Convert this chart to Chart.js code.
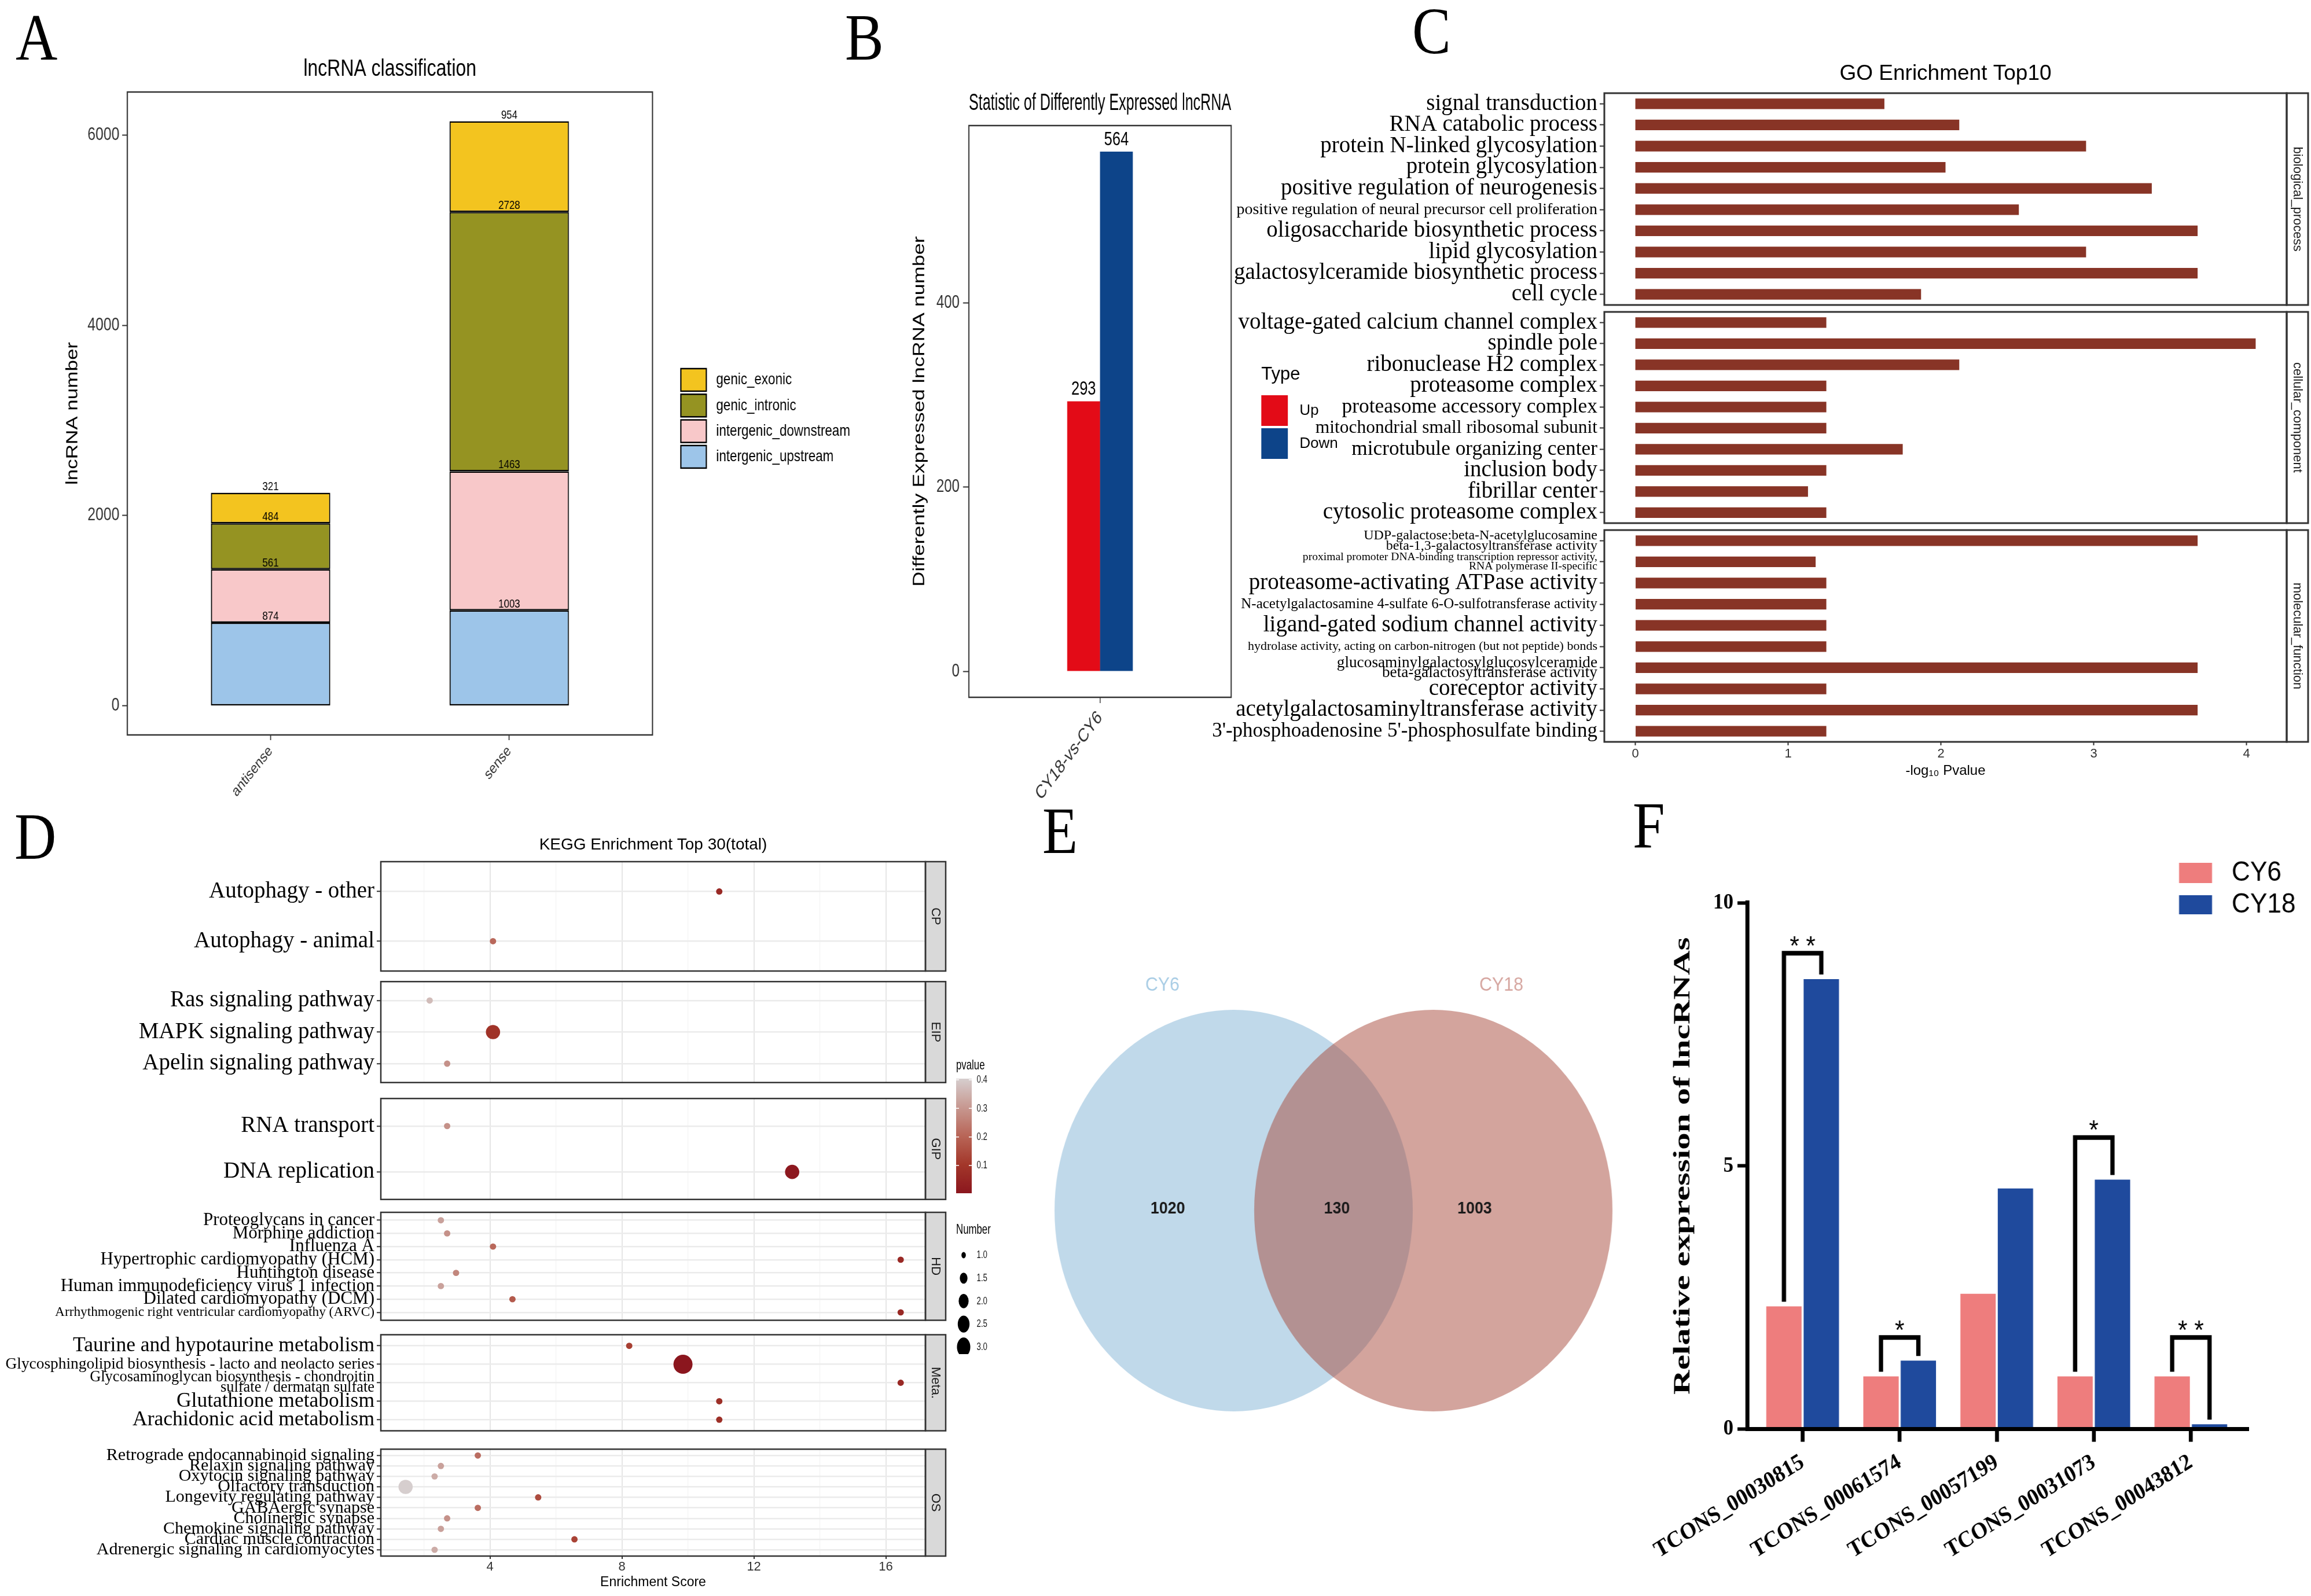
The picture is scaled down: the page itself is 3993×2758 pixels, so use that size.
<!DOCTYPE html>
<html>
<head>
<meta charset="utf-8">
<title>lncRNA figure</title>
<script src="https://cdn.jsdelivr.net/npm/chart.js@4.4.1/dist/chart.umd.min.js"></script>
<style>
  html, body { margin: 0; padding: 0; background: #fff; }
  body { position: relative; width: 3993px; height: 2758px; overflow: hidden; }
  .panel { position: absolute; transform-origin: 0 0; }
  .panel canvas { display: block; }
  #letters { position: absolute; left: 0; top: 0; }
</style>
</head>
<body>
<svg id="letters" width="3993" height="2758">
  <g font-family="'Liberation Serif', 'Times New Roman', serif" font-size="115" fill="#000">
    <text transform="translate(27,103) scale(0.87,1)">A</text>
    <text transform="translate(1460,103) scale(0.87,1)">B</text>
    <text transform="translate(2440,92) scale(0.87,1)">C</text>
    <text transform="translate(25,1484) scale(0.87,1)">D</text>
    <text transform="translate(1801,1474) scale(0.87,1)">E</text>
    <text transform="translate(2821,1465) scale(0.87,1)">F</text>
  </g>
</svg>
<script>
// ---------- data ----------
// A: lncRNA classification (stacked)
const classCats = ['antisense', 'sense'];
const upstream = [874, 1003];
const downstream = [561, 1463];
const intronic = [484, 2728];
const exonic = [321, 954];
const classTicks = [0, 2000, 4000, 6000];

// B: differently expressed lncRNA
const deCats = ['CY18-vs-CY6'];
const deUp = [293];
const deDown = [564];
const deTicks = [0, 200, 400];

// C: GO enrichment (-log10 p)
const bpTerms = ['signal transduction', 'RNA catabolic process', 'protein N-linked glycosylation', 'protein glycosylation',
  'positive regulation of neurogenesis', 'positive regulation of neural precursor cell proliferation',
  'oligosaccharide biosynthetic process', 'lipid glycosylation', 'galactosylceramide biosynthetic process', 'cell cycle'];
const bpScore = [1.63, 2.12, 2.95, 2.03, 3.38, 2.51, 3.68, 2.95, 3.68, 1.87];
const ccTerms = ['voltage-gated calcium channel complex', 'spindle pole', 'ribonuclease H2 complex', 'proteasome complex',
  'proteasome accessory complex', 'mitochondrial small ribosomal subunit', 'microtubule organizing center',
  'inclusion body', 'fibrillar center', 'cytosolic proteasome complex'];
const ccScore = [1.25, 4.06, 2.12, 1.25, 1.25, 1.25, 1.75, 1.25, 1.13, 1.25];
const mfTerms = [['UDP-galactose:beta-N-acetylglucosamine', 'beta-1,3-galactosyltransferase activity'],
  ['proximal promoter DNA-binding transcription repressor activity,', 'RNA polymerase II-specific'],
  'proteasome-activating ATPase activity', 'N-acetylgalactosamine 4-sulfate 6-O-sulfotransferase activity',
  'ligand-gated sodium channel activity', 'hydrolase activity, acting on carbon-nitrogen (but not peptide) bonds',
  ['glucosaminylgalactosylglucosylceramide', 'beta-galactosyltransferase activity'],
  'coreceptor activity', 'acetylgalactosaminyltransferase activity', "3'-phosphoadenosine 5'-phosphosulfate binding"];
const mfScore = [3.68, 1.18, 1.25, 1.25, 1.25, 1.25, 3.68, 1.25, 3.68, 1.25];
const goTicks = [0, 1, 2, 3, 4];

// D: KEGG enrichment
const cpTerms = ['Autophagy - other', 'Autophagy - animal'];
const cpScore = [10.95, 4.09];
const cpP = [0.06, 0.21];
const cpNum = [1, 1];
const eipTerms = ['Ras signaling pathway', 'MAPK signaling pathway', 'Apelin signaling pathway'];
const eipScore = [2.17, 4.09, 2.70];
const eipP = [0.37, 0.09, 0.29];
const eipNum = [1, 2, 1];
const gipTerms = ['RNA transport', 'DNA replication'];
const gipScore = [2.70, 13.16];
const gipP = [0.29, 0.01];
const gipNum = [1, 2];
const hdTerms = ['Proteoglycans in cancer', 'Morphine addiction', 'Influenza A', 'Hypertrophic cardiomyopathy (HCM)',
  'Huntington disease', 'Human immunodeficiency virus 1 infection', 'Dilated cardiomyopathy (DCM)',
  'Arrhythmogenic right ventricular cardiomyopathy (ARVC)'];
const hdScore = [2.51, 2.70, 4.09, 16.45, 2.97, 2.51, 4.68, 16.45];
const hdP = [0.32, 0.29, 0.21, 0.06, 0.27, 0.32, 0.18, 0.06];
const hdNum = [1, 1, 1, 1, 1, 1, 1, 1];
const metaTerms = ['Taurine and hypotaurine metabolism', 'Glycosphingolipid biosynthesis - lacto and neolacto series',
  ['Glycosaminoglycan biosynthesis - chondroitin', 'sulfate / dermatan sulfate'], 'Glutathione metabolism',
  'Arachidonic acid metabolism'];
const metaScore = [8.22, 9.85, 16.45, 10.95, 10.95];
const metaP = [0.12, 0.003, 0.06, 0.08, 0.08];
const metaNum = [1, 3, 1, 1, 1];
const osTerms = ['Retrograde endocannabinoid signaling', 'Relaxin signaling pathway', 'Oxytocin signaling pathway',
  'Olfactory transduction', 'Longevity regulating pathway', 'GABAergic synapse', 'Cholinergic synapse',
  'Chemokine signaling pathway', 'Cardiac muscle contraction', 'Adrenergic signaling in cardiomyocytes'];
const osScore = [3.63, 2.51, 2.32, 1.44, 5.46, 3.63, 2.70, 2.51, 6.56, 2.32];
const osP = [0.22, 0.32, 0.34, 0.404, 0.15, 0.22, 0.29, 0.32, 0.13, 0.34];
const osNum = [1, 1, 1, 2, 1, 1, 1, 1, 1, 1];
const keggTicks = [4, 8, 12, 16];
const pTicks = [0.1, 0.2, 0.3, 0.4];
const numTicks = [1.0, 1.5, 2.0, 2.5, 3.0];

// E: venn
const vennSets = ['CY6', 'CY18'];
const vennCounts = [1020, 130, 1003];

// F: qPCR
const qpcrGenes = ['TCONS_00030815', 'TCONS_00061574', 'TCONS_00057199', 'TCONS_00031073', 'TCONS_00043812'];
const qpcrCY6 = [2.33, 1.0, 2.57, 1.0, 1.0];
const qpcrCY18 = [8.55, 1.30, 4.57, 4.74, 0.09];
const qpcrSig = ['**', '*', '', '*', '**'];
const bracketTop = [9.04, 1.74, null, 5.54, 1.74];
const fTicks = [0, 5, 10];

// ---------- styles ----------
const SANS = '"Liberation Sans", Arial, Helvetica, sans-serif';
const SERIF = '"Liberation Serif", "Times New Roman", Times, serif';
const bpFont = [39, 39, 39, 39, 39, 28, 39, 39, 39, 39];
const ccFont = [39, 39, 39, 39, 35.5, 31.5, 35.3, 39, 39, 39];
const mfFont = [24, 19.6, 39, 25, 39, 22, 27.3, 39, 39, 35];
const mfLine = [0.75, 0.8, 1.2, 1.2, 1.2, 1.2, 0.62, 1.2, 1.2, 1.2];
const cpFont = [39, 39];
const eipFont = [39, 39, 39];
const gipFont = [39, 39];
const hdFont = [31, 31, 31, 31, 31, 31, 31, 23.3];
const metaFont = [35.5, 27.4, 26.4, 35.5, 35.5];
const metaLine = [1.2, 1.2, 0.68, 1.2, 1.2];
const osFont = [30, 30, 30, 30, 30, 30, 30, 30, 30, 30];

Chart.defaults.animation = false;
Chart.defaults.events = [];
Chart.defaults.font.family = SANS;
Chart.defaults.color = '#000';
Chart.defaults.plugins.legend.display = false;
Chart.defaults.plugins.tooltip.enabled = false;

// canvas inside an absolutely placed box, squeezed horizontally by sx like the source figure
function mount(x, y, w, h, sx) {
  const box = document.createElement('div');
  box.className = 'panel';
  box.style.left = x + 'px';
  box.style.top = y + 'px';
  box.style.transform = 'scaleX(' + sx + ')';
  const cv = document.createElement('canvas');
  const nw = Math.round(w / sx);
  cv.width = nw;
  cv.height = h;
  cv.style.width = nw + 'px';
  cv.style.height = h + 'px';
  box.appendChild(cv);
  document.body.appendChild(box);
  return cv;
}

const fixedTicks = vals => scale => { scale.ticks = vals.map(v => ({value: v})); };
// fixed axis size, and no extra room for overhanging labels
const fitAxis = (w, h) => s => {
  if (w !== null) s.width = w;
  if (h !== null) s.height = h;
  s.paddingTop = 0;
  s.paddingBottom = 0;
  s.paddingLeft = 0;
  s.paddingRight = 0;
};

function framePlugin(color, width) {
  return {id: 'frame', afterDraw(chart) {
    const {ctx, chartArea: a} = chart;
    ctx.save();
    ctx.strokeStyle = color;
    ctx.lineWidth = width;
    ctx.strokeRect(a.left, a.top, a.right - a.left, a.bottom - a.top);
    ctx.restore();
  }};
}

function facetBox(label, fill, stripW, lw) {
  return {id: 'facetBox', afterDraw(chart) {
    const {ctx, chartArea: a} = chart;
    const h = a.bottom - a.top;
    ctx.save();
    ctx.fillStyle = fill;
    ctx.fillRect(a.right, a.top, stripW, h);
    ctx.lineWidth = lw;
    ctx.strokeStyle = '#333';
    ctx.strokeRect(a.left, a.top, a.right - a.left, h);
    ctx.strokeRect(a.right, a.top, stripW, h);
    ctx.translate(a.right + stripW / 2, a.top + h / 2);
    ctx.rotate(Math.PI / 2);
    ctx.fillStyle = '#1a1a1a';
    ctx.font = '22px ' + SANS;
    ctx.textAlign = 'center';
    ctx.textBaseline = 'middle';
    ctx.fillText(label, 0, 0);
    ctx.restore();
  }};
}

function valueLabels(size, gap) {
  return {id: 'valueLabels', afterDatasetsDraw(chart) {
    const ctx = chart.ctx;
    ctx.save();
    ctx.font = size + 'px ' + SANS;
    ctx.fillStyle = '#000';
    ctx.textAlign = 'center';
    ctx.textBaseline = 'alphabetic';
    chart.data.datasets.forEach((ds, i) => {
      chart.getDatasetMeta(i).data.forEach((bar, j) => {
        const v = ds.data[j];
        ctx.fillText(String(typeof v === 'object' ? v.y : v), bar.x, bar.y - gap);
      });
    });
    ctx.restore();
  }};
}

// ---------- A ----------
const sxA = 0.8;
const classMax = Math.max(...classCats.map((c, i) => upstream[i] + downstream[i] + intronic[i] + exonic[i]));
const stackSeries = [
  ['intergenic_upstream', upstream, '#9DC5E9'],
  ['intergenic_downstream', downstream, '#F8C8C9'],
  ['genic_intronic', intronic, '#959322'],
  ['genic_exonic', exonic, '#F3C41F']
];
const legendA = {id: 'legendA', afterDraw(chart) {
  const {ctx, chartArea: a} = chart;
  const items = chart.data.datasets.slice().reverse();
  const x0 = a.right + 49 / sxA, kw = 44 / sxA, kh = 39, step = 44.3;
  const y0 = a.top + 478;
  ctx.save();
  ctx.font = '28px ' + SANS;
  ctx.textBaseline = 'middle';
  items.forEach((ds, i) => {
    const y = y0 + i * step;
    ctx.fillStyle = ds.backgroundColor;
    ctx.fillRect(x0, y, kw, kh);
    ctx.lineWidth = 2.5;
    ctx.strokeStyle = '#000';
    ctx.strokeRect(x0, y, kw, kh);
    ctx.fillStyle = '#000';
    ctx.fillText(ds.label, x0 + 61 / sxA, y + kh / 2);
  });
  ctx.restore();
}};
new Chart(mount(100, 60, 1390, 1360, sxA), {
  type: 'bar',
  data: {datasets: stackSeries.map(([label, vals, color]) => ({
    label: label,
    data: vals.map((v, i) => ({x: i + 1, y: v})),
    backgroundColor: color,
    borderColor: '#000', borderWidth: 2.5, borderSkipped: false,
    barPercentage: 0.5, categoryPercentage: 1
  }))},
  options: {
    responsive: false,
    layout: {padding: {left: 0, top: 0, right: 363 / sxA, bottom: 0}},
    plugins: {title: {display: true, fullSize: false, text: 'lncRNA classification', color: '#000',
      font: {size: 40, weight: 'normal'}, padding: {top: 36, bottom: 15}}},
    scales: {
      x: {type: 'linear', stacked: true, offset: false, min: 0.4, max: 2.6,
        afterBuildTicks: fixedTicks([1, 2]), afterFit: fitAxis(null, 150),
        ticks: {autoSkip: false, minRotation: 45, maxRotation: 45, padding: 4, color: '#333', font: {size: 26},
          callback: v => classCats[v - 1]},
        grid: {drawOnChartArea: false, offset: false, tickLength: 9, tickWidth: 2, tickColor: '#333'},
        border: {display: false}},
      y: {stacked: true, min: -0.05 * classMax, max: 1.05 * classMax,
        afterBuildTicks: fixedTicks(classTicks), afterFit: fitAxis(120 / sxA, null),
        ticks: {padding: 6, color: '#333', font: {size: 31}, callback: v => String(v)},
        grid: {drawOnChartArea: false, tickLength: 11, tickWidth: 2, tickColor: '#333'},
        border: {display: false},
        title: {display: true, text: 'lncRNA number', color: '#000', font: {size: 35}, padding: {top: 11, bottom: 0}}}
    }
  },
  plugins: [framePlugin('#333', 2.5), valueLabels(21, 5), legendA]
});

// ---------- B ----------
const sxB = 0.75;
const deMax = Math.max(...deUp, ...deDown);
const legendB = {id: 'legendB', afterDraw(chart) {
  const {ctx, chartArea: a} = chart;
  ctx.save();
  ctx.translate(a.right + 52 / sxB, a.top);
  ctx.scale(1 / sxB, 1);
  ctx.fillStyle = '#000';
  ctx.font = '31px ' + SANS;
  ctx.textBaseline = 'alphabetic';
  ctx.fillText('Type', 0, 439);
  chart.data.datasets.forEach((ds, i) => {
    const y = 466 + i * 57;
    ctx.fillStyle = ds.backgroundColor;
    ctx.fillRect(0, y, 46, 53);
    ctx.fillStyle = '#000';
    ctx.font = '26px ' + SANS;
    ctx.textBaseline = 'middle';
    ctx.fillText(ds.label, 66, y + 26.5);
  });
  ctx.restore();
}};
new Chart(mount(1500, 120, 830, 1280, sxB), {
  type: 'bar',
  data: {labels: deCats, datasets: [
    {label: 'Up', data: deUp, backgroundColor: '#E30B17'},
    {label: 'Down', data: deDown, backgroundColor: '#0D4489'}
  ]},
  options: {
    responsive: false,
    datasets: {bar: {barPercentage: 1, categoryPercentage: 0.25}},
    layout: {padding: {left: 0, top: 0, right: 203 / sxB, bottom: 0}},
    plugins: {title: {display: true, fullSize: false, text: 'Statistic of Differently Expressed lncRNA', color: '#000',
      font: {size: 40, weight: 'normal'}, padding: {top: 35, bottom: 14}}},
    scales: {
      x: {afterFit: fitAxis(null, 195),
        ticks: {minRotation: 45, maxRotation: 45, padding: 6, color: '#333', font: {size: 33}},
        grid: {drawOnChartArea: false, offset: false, tickLength: 10, tickWidth: 2, tickColor: '#333'},
        border: {display: false}},
      y: {min: -0.05 * deMax, max: 1.05 * deMax, afterBuildTicks: fixedTicks(deTicks), afterFit: fitAxis(174 / sxB, null),
        ticks: {padding: 8, color: '#333', font: {size: 32}},
        grid: {drawOnChartArea: false, tickLength: 10 / sxB, tickWidth: 2, tickColor: '#333'},
        border: {display: false},
        title: {display: true, text: 'Differently Expressed lncRNA number', color: '#000', font: {size: 36},
          padding: {top: 97, bottom: 0}}}
    }
  },
  plugins: [framePlugin('#333', 2.5), valueLabels(34, 11), legendB]
});

// ---------- C ----------
const goMax = Math.max(...bpScore, ...ccScore, ...mfScore);
function goChart(cv, terms, scores, fonts, lines, strip, isFirst, isLast) {
  return new Chart(cv, {
    type: 'bar',
    data: {labels: terms, datasets: [{data: scores, backgroundColor: '#883426', barPercentage: 0.5, categoryPercentage: 1}]},
    options: {
      responsive: false,
      indexAxis: 'y',
      layout: {padding: {left: 0, top: isFirst ? 0 : 9, right: 44, bottom: isLast ? 0 : 8}},
      plugins: {title: {display: isFirst, fullSize: false, text: 'GO Enrichment Top10', color: '#000',
        font: {size: 37, weight: 'normal'}, padding: {top: 45.8, bottom: 10.8}}},
      scales: {
        x: {type: 'linear', display: isLast, min: -0.05 * goMax, max: 1.05 * goMax,
          afterBuildTicks: fixedTicks(goTicks), afterFit: fitAxis(null, isLast ? 78 : 0),
          ticks: {color: '#333', font: {size: 22}, padding: 2},
          grid: {drawOnChartArea: false, tickLength: 6, tickWidth: 2, tickColor: '#333'},
          border: {display: false},
          title: {display: true, text: '-log\u2081\u2080 Pvalue', color: '#000', font: {size: 24}, padding: {top: 0, bottom: 13.6}}},
        y: {afterFit: fitAxis(692, null),
          ticks: {autoSkip: false, padding: 4, color: '#000',
            font: c => ({family: SERIF, size: fonts[c.index] || 30, lineHeight: (lines && lines[c.index]) || 1.2})},
          grid: {offset: false, drawOnChartArea: false, tickLength: 8, tickWidth: 2, tickColor: '#333'},
          border: {display: false}}
      }
    },
    plugins: [facetBox(strip, '#fff', 37, 3)]
  });
}
goChart(mount(2080, 60, 1915, 475, 1), bpTerms, bpScore, bpFont, null, 'biological_process', true, false);
goChart(mount(2080, 530, 1915, 382, 1), ccTerms, ccScore, ccFont, null, 'cellular_component', false, false);
goChart(mount(2080, 907, 1915, 453, 1), mfTerms, mfScore, mfFont, mfLine, 'molecular_function', false, true);

// ---------- D ----------
const allScores = [...cpScore, ...eipScore, ...gipScore, ...hdScore, ...metaScore, ...osScore];
const allP = [...cpP, ...eipP, ...gipP, ...hdP, ...metaP, ...osP];
const kMin = Math.min(...allScores), kMax = Math.max(...allScores);
const kPad = 0.05 * (kMax - kMin);
const pLow = Math.min(...allP), pHigh = Math.max(...allP);
const keggGrid = [...keggTicks.map(v => v - 2), ...keggTicks].sort((a, b) => a - b);
const pStops = [[0, [139, 22, 30]], [0.25, [163, 55, 42]], [0.5, [184, 101, 87]], [0.75, [199, 152, 145]], [1, [214, 206, 206]]];
function pColor(p) {
  const t = Math.min(1, Math.max(0, (p - pLow) / (pHigh - pLow)));
  for (let i = 1; i < pStops.length; i++) {
    if (t <= pStops[i][0]) {
      const [t0, c0] = pStops[i - 1], [t1, c1] = pStops[i];
      const f = (t - t0) / (t1 - t0);
      const c = c0.map((v, k) => Math.round(v + (c1[k] - v) * f));
      return 'rgb(' + c.join(',') + ')';
    }
  }
  return 'rgb(214,206,206)';
}
const dotR = n => Math.sqrt(30 + 121 * (n - 1));
const isMajor = c => !!(c.tick && keggTicks.includes(c.tick.value));

const keggLegend = {id: 'keggLegend', afterDraw(chart) {
  const {ctx, chartArea: a} = chart;
  const k = 0.7;
  const barTop = a.top + 375, barH = 198, barW = 27 / k, textX = 35.5 / k;
  ctx.save();
  ctx.translate(a.right + 53, 0);
  ctx.scale(k, 1);
  ctx.fillStyle = '#000';
  ctx.font = '24px ' + SANS;
  ctx.textBaseline = 'middle';
  ctx.fillText('pvalue', 0, a.top + 352.5);
  const g = ctx.createLinearGradient(0, barTop, 0, barTop + barH);
  for (let i = 0; i <= 20; i++) {
    g.addColorStop(i / 20, pColor(pHigh - (i / 20) * (pHigh - pLow)));
  }
  ctx.fillStyle = g;
  ctx.fillRect(0, barTop, barW, barH);
  ctx.font = '19px ' + SANS;
  pTicks.forEach(v => {
    const y = barTop + (pHigh - v) / (pHigh - pLow) * barH;
    ctx.strokeStyle = '#fff';
    ctx.lineWidth = 1.5;
    ctx.beginPath();
    ctx.moveTo(0, y); ctx.lineTo(5 / k, y);
    ctx.moveTo(barW - 5 / k, y); ctx.lineTo(barW, y);
    ctx.stroke();
    ctx.fillStyle = '#1a1a1a';
    ctx.fillText(v.toFixed(1), textX, y);
  });
  ctx.fillStyle = '#000';
  ctx.font = '24px ' + SANS;
  ctx.fillText('Number', 0, a.top + 636);
  ctx.font = '19px ' + SANS;
  numTicks.forEach((n, i) => {
    const y = a.top + 680 + i * 39.7;
    ctx.fillStyle = '#000';
    ctx.beginPath();
    ctx.arc(13 / k, y, dotR(n), 0, Math.PI * 2);
    ctx.fill();
    ctx.fillStyle = '#1a1a1a';
    ctx.fillText(n.toFixed(1), textX, y);
  });
  ctx.restore();
}};

function keggChart(cv, f, o) {
  const n = f.terms.length;
  return new Chart(cv, {
    type: 'scatter',
    data: {datasets: [{
      data: f.score.map((s, i) => ({x: s, y: n - i})),
      pointRadius: c => dotR(f.num[c.dataIndex]),
      backgroundColor: c => pColor(f.p[c.dataIndex]),
      borderWidth: 0,
      clip: false
    }]},
    options: {
      responsive: false,
      layout: {padding: {left: 0, top: o.top, right: o.right, bottom: o.bottom}},
      plugins: {title: {display: !!o.title, fullSize: false, text: o.title || '', color: '#000',
        font: {size: 28, weight: 'normal'}, padding: {top: 33.2, bottom: 12.2}}},
      scales: {
        x: {type: 'linear', min: kMin - kPad, max: kMax + kPad,
          afterBuildTicks: fixedTicks(keggGrid), afterFit: fitAxis(null, o.last ? 69 : 0),
          ticks: {display: !!o.last, padding: 1, color: '#333', font: {size: 22},
            callback: v => keggTicks.includes(v) ? String(v) : ''},
          grid: {drawTicks: !!o.last, tickLength: 5, tickWidth: 2,
            tickColor: c => isMajor(c) ? '#333' : 'rgba(0,0,0,0)',
            color: c => isMajor(c) ? '#E6E6E6' : '#F3F3F3',
            lineWidth: c => isMajor(c) ? 2 : 1.2},
          border: {display: false},
          title: {display: !!o.last, text: 'Enrichment Score', color: '#000', font: {size: 23}, padding: {top: 0, bottom: 9.2}}},
        y: {type: 'linear', min: 0.4, max: n + 0.6,
          afterBuildTicks: fixedTicks(f.terms.map((t, i) => i + 1)), afterFit: fitAxis(658, null),
          ticks: {autoSkip: false, padding: 4, color: '#000',
            font: c => ({family: SERIF, size: f.fonts[n - 1 - c.index] || 30, lineHeight: (f.lines && f.lines[n - 1 - c.index]) || 1.2}),
            callback: v => f.terms[n - v]},
          grid: {color: '#EBEBEB', lineWidth: 2.5, tickLength: 7, tickWidth: 2, tickColor: '#333'},
          border: {display: false}}
      }
    },
    plugins: [facetBox(f.strip, '#D9D9D9', 35, 2.5)].concat(o.legend ? [keggLegend] : [])
  });
}
keggChart(mount(0, 1410, 1800, 930, 1),
  {terms: cpTerms, score: cpScore, p: cpP, num: cpNum, fonts: cpFont, strip: 'CP'},
  {top: 0, right: 201, bottom: 662, title: 'KEGG Enrichment Top 30(total)', legend: true});
keggChart(mount(0, 1684, 1640, 199, 1),
  {terms: eipTerms, score: eipScore, p: eipP, num: eipNum, fonts: eipFont, strip: 'EIP'},
  {top: 7, right: 41, bottom: 3});
keggChart(mount(0, 1886, 1640, 199, 1),
  {terms: gipTerms, score: gipScore, p: gipP, num: gipNum, fonts: gipFont, strip: 'GIP'},
  {top: 7, right: 41, bottom: 3});
keggChart(mount(0, 2088, 1640, 199, 1),
  {terms: hdTerms, score: hdScore, p: hdP, num: hdNum, fonts: hdFont, strip: 'HD'},
  {top: 7, right: 41, bottom: 3});
keggChart(mount(0, 2290, 1640, 199, 1),
  {terms: metaTerms, score: metaScore, p: metaP, num: metaNum, fonts: metaFont, lines: metaLine, strip: 'Meta.'},
  {top: 7, right: 41, bottom: 3});
keggChart(mount(0, 2492, 1640, 266, 1),
  {terms: osTerms, score: osScore, p: osP, num: osNum, fonts: osFont, strip: 'OS'},
  {top: 7, right: 41, bottom: 0, last: true});

// ---------- E ----------
const sxE = 0.892;
const venn = {gap: 1.1147, countX: [-0.925, 0.019, 0.788], setX: [-0.955, 0.937], setY: 1.121,
  setColor: ['#A9CDE5', '#D6A6A0']};
const vennLabels = {id: 'vennLabels', afterDatasetsDraw(chart) {
  const {ctx, scales: {x, y}} = chart;
  ctx.save();
  ctx.textAlign = 'center';
  ctx.textBaseline = 'middle';
  ctx.font = 'bold 30px ' + SANS;
  ctx.fillStyle = '#1a1a1a';
  vennCounts.forEach((n, i) => ctx.fillText(String(n), x.getPixelForValue(venn.countX[i]), y.getPixelForValue(0.01)));
  ctx.font = '34px ' + SANS;
  vennSets.forEach((s, i) => {
    ctx.fillStyle = venn.setColor[i];
    ctx.fillText(s, x.getPixelForValue(venn.setX[i]), y.getPixelForValue(venn.setY));
  });
  ctx.restore();
}};
new Chart(mount(1780, 1640, 1050, 820, sxE), {
  type: 'scatter',
  data: {datasets: [{
    data: [{x: -venn.gap / 2, y: 0}, {x: venn.gap / 2, y: 0}],
    backgroundColor: ['rgba(129,179,213,0.5)', 'rgba(167,73,59,0.5)'],
    borderWidth: 0,
    clip: false,
    pointRadius: c => c.chart.scales.x.getPixelForValue(1) - c.chart.scales.x.getPixelForValue(0)
  }]},
  options: {
    responsive: false,
    layout: {padding: 0},
    scales: {
      x: {display: false, min: -1.693, max: 1.699},
      y: {display: false, min: -1.0605, max: 1.3026}
    }
  },
  plugins: [vennLabels]
});

// ---------- F ----------
const sxF = 0.92;
const fTitle = {id: 'fTitle', afterDraw(chart) {
  const {ctx, chartArea: a} = chart;
  ctx.save();
  ctx.translate(68.7 / sxF, (a.top + a.bottom) / 2);
  ctx.rotate(-Math.PI / 2);
  ctx.scale(1, 0.76);
  ctx.font = 'bold 59px ' + SERIF;
  ctx.textAlign = 'center';
  ctx.textBaseline = 'middle';
  ctx.fillStyle = '#000';
  ctx.fillText('Relative expression of lncRNAs', 0, 0);
  ctx.restore();
}};
const brackets = {id: 'brackets', afterDatasetsDraw(chart) {
  const {ctx} = chart;
  const y = chart.scales.y;
  const m0 = chart.getDatasetMeta(0), m1 = chart.getDatasetMeta(1);
  ctx.save();
  ctx.strokeStyle = '#000';
  ctx.fillStyle = '#000';
  ctx.lineWidth = 8;
  ctx.lineJoin = 'miter';
  qpcrSig.forEach((s, i) => {
    if (!s) return;
    const b0 = m0.data[i], b1 = m1.data[i];
    const top = y.getPixelForValue(bracketTop[i]);
    ctx.beginPath();
    ctx.moveTo(b0.x, b0.y - 8);
    ctx.lineTo(b0.x, top);
    ctx.lineTo(b1.x, top);
    ctx.lineTo(b1.x, b1.y - 8);
    ctx.stroke();
    ctx.font = '46px ' + SANS;
    ctx.textAlign = 'center';
    ctx.textBaseline = 'middle';
    ctx.fillText(s.split('').join(' '), (b0.x + b1.x) / 2, top - 10);
  });
  ctx.restore();
}};
const legendF = {id: 'legendF', afterDraw(chart) {
  const {ctx, chartArea: a} = chart;
  const x0 = a.right - 121 / sxF, w = 57 / sxF;
  const rows = [[-69, 35], [-13, 33]];
  ctx.save();
  ctx.font = '48px ' + SANS;
  ctx.textBaseline = 'middle';
  chart.data.datasets.forEach((ds, i) => {
    const [dy, h] = rows[i];
    ctx.fillStyle = ds.backgroundColor;
    ctx.fillRect(x0, a.top + dy, w, h);
    ctx.fillStyle = '#000';
    ctx.fillText(ds.label, a.right - 30 / sxF, a.top + dy + h / 2);
  });
  ctx.restore();
}};
new Chart(mount(2840, 1460, 1150, 1298, sxF), {
  type: 'bar',
  data: {datasets: [
    {label: 'CY6', data: qpcrCY6.map((v, i) => ({x: i + 1, y: v})), backgroundColor: '#EE7D7D'},
    {label: 'CY18', data: qpcrCY18.map((v, i) => ({x: i + 1, y: v})), backgroundColor: '#1F4A9D'}
  ]},
  options: {
    responsive: false,
    datasets: {bar: {categoryPercentage: 0.77, barPercentage: 0.946}},
    layout: {padding: {left: 0, top: 100, right: 104 / sxF, bottom: 0}},
    scales: {
      x: {type: 'linear', offset: false, min: 0.43, max: 5.6,
        afterBuildTicks: fixedTicks(qpcrGenes.map((g, i) => i + 1)), afterFit: fitAxis(null, 288.5),
        ticks: {autoSkip: false, minRotation: 30, maxRotation: 30, padding: 12, color: '#000',
          font: {family: SERIF, size: 40, weight: 'bold'}, callback: v => qpcrGenes[v - 1]},
        grid: {drawOnChartArea: false, offset: false, tickLength: 22, tickWidth: 7.3, tickColor: '#000'},
        border: {display: true, color: '#000', width: 7, z: 1}},
      y: {min: 0, max: 10, afterBuildTicks: fixedTicks(fTicks), afterFit: fitAxis(179 / sxF, null),
        ticks: {padding: 7.6, color: '#000', font: {family: SERIF, size: 38, weight: 'bold'}},
        grid: {drawOnChartArea: false, tickLength: 18.5, tickWidth: 6, tickColor: '#000'},
        border: {display: true, color: '#000', width: 7.6, z: 1}}
    }
  },
  plugins: [fTitle, brackets, legendF]
});
</script>
</body>
</html>
